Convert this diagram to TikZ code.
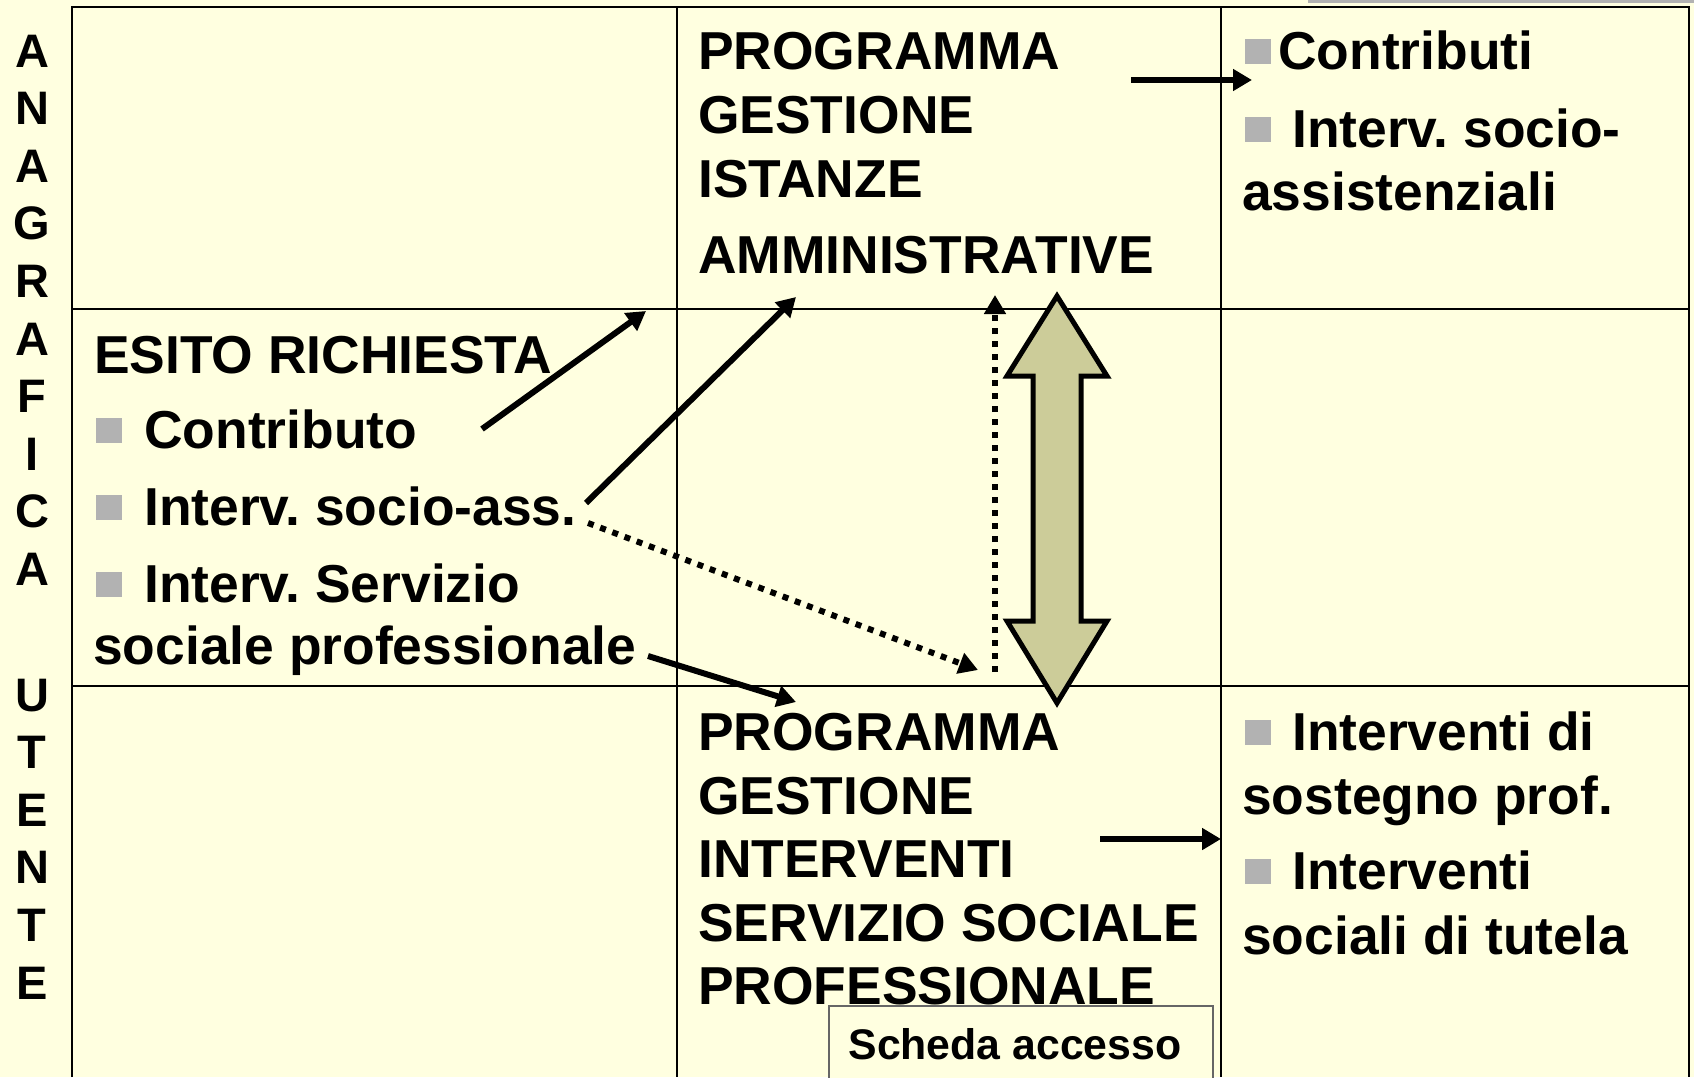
\documentclass[tikz,border=0pt]{standalone}
\usepackage{fontspec}
\setmainfont{Liberation Sans}
\usetikzlibrary{arrows.meta}
\definecolor{bg}{HTML}{FFFFE0}
\definecolor{bul}{HTML}{B2B2B2}
\definecolor{olivef}{HTML}{CCCC99}
\frenchspacing
\begin{document}
\begin{tikzpicture}[x=1pt,y=-1pt,
 txt/.style={anchor=base west,inner sep=0,font=\fontsize{53.4}{60}\selectfont\bfseries},
 vtxt/.style={anchor=base,inner sep=0,font=\fontsize{47}{50}\selectfont\bfseries},
 bulletbox/.style={fill=bul,minimum width=26pt,minimum height=25pt,inner sep=0,anchor=center},
 gridline/.style={line width=2.6pt},
 arr/.style={line width=6pt,-{Triangle[length=19pt,width=21pt]}},
 dotarr/.style={line width=6pt,dash pattern=on 6pt off 7pt,-{Triangle[length=19pt,width=21pt]}}]
\fill[bg] (0,0) rectangle (1694,1077);
\useasboundingbox (0,0) rectangle (1694,1077);
\fill[bul] (1308,0) rectangle (1694,3);
% grid
\draw[gridline] (72,1077) -- (72,7) -- (1689,7) -- (1689,1077);
\draw[gridline] (677,7) -- (677,1077);
\draw[gridline] (1221,7) -- (1221,1077);
\draw[gridline] (72,309) -- (1689,309);
\draw[gridline] (72,686) -- (1689,686);
% vertical label
\foreach \l [count=\i from 0] in {A,N,A,G,R,A,F,I,C,A}
  \node[vtxt] (v\i) at (32,67+57.6*\i) {\l};
\foreach \l [count=\i from 0] in {U,T,E,N,T,E}
  \node[vtxt] (u\i) at (32,711+57.6*\i) {\l};
% top centre
\node[txt] (tc1) at (698,69) {PROGRAMMA};
\node[txt] (tc2) at (698,133) {GESTIONE};
\node[txt] (tc3) at (698,197) {ISTANZE};
\node[txt] (tc4) at (698,273) {AMMINISTRATIVE};
% top right
\node[bulletbox] (tb1) at (1258,51) {};
\node[txt] (tr1) at (1278,69) {Contributi};
\node[bulletbox] (tb2) at (1258,129) {};
\node[txt] (tr2) at (1292,147) {Interv. socio-};
\node[txt] (tr3) at (1242,210) {assistenziali};
% left middle
\node[txt] (l0) at (94,373) {ESITO RICHIESTA};
\node[bulletbox] (lb1) at (109,430) {};
\node[txt] (l1) at (144,448) {Contributo};
\node[bulletbox] (lb2) at (109,507) {};
\node[txt] (l2) at (144,525) {Interv. socio-ass.};
\node[bulletbox] (lb3) at (109,584) {};
\node[txt] (l3) at (144,602) {Interv. Servizio};
\node[txt] (l4) at (93,664) {sociale professionale};
% bottom centre
\node[txt] (bc1) at (698,750) {PROGRAMMA};
\node[txt] (bc2) at (698,814) {GESTIONE};
\node[txt] (bc3) at (698,877) {INTERVENTI};
\node[txt] (bc4) at (698,941) {SERVIZIO SOCIALE};
\node[txt] (bc5) at (698,1004) {PROFESSIONALE};
% bottom right
\node[bulletbox] (bb1) at (1258,732) {};
\node[txt] (br1) at (1292,750) {Interventi di};
\node[txt] (br2) at (1242,814) {sostegno prof.};
\node[bulletbox] (bb2) at (1258,871) {};
\node[txt] (br3) at (1292,889) {Interventi};
\node[txt] (br4) at (1242,954) {sociali di tutela};
% scheda accesso
\draw[fill=bg,draw=black!60,line width=1.5pt] (829,1006) rectangle (1213,1085);
\node[anchor=base,inner sep=0,font=\fontsize{42.8}{48}\selectfont\bfseries] (sch) at (1015,1059) {Scheda accesso};
% big double arrow
\draw[fill=olivef,line width=5pt,miter limit=10] (1057,296) -- (1107,376) -- (1081,376) -- (1081,621) -- (1107,621) -- (1057,703) -- (1007,621) -- (1033,621) -- (1033,376) -- (1007,376) -- cycle;
% connector coordinates
\coordinate (s1) at (482,429); \coordinate (e1) at (646,311);
\coordinate (s2) at (586,503); \coordinate (e2) at (796,297);
\coordinate (s3) at (588,523); \coordinate (e3) at (978,670);
\coordinate (s4) at (648,656); \coordinate (e4) at (796,702);
\coordinate (s5) at (995,672); \coordinate (e5) at (995,295);
\coordinate (s6) at (1131,80); \coordinate (e6) at (1252,80);
\coordinate (s7) at (1100,839); \coordinate (e7) at (1221,839);
\draw[arr] (s1) -- (e1);
\draw[arr] (s2) -- (e2);
\draw[dotarr] (s3) -- (e3);
\draw[arr] (s4) -- (e4);
\draw[dotarr] (s5) -- (e5);
\draw[arr] (s6) -- (e6);
\draw[arr] (s7) -- (e7);
\end{tikzpicture}
\end{document}
